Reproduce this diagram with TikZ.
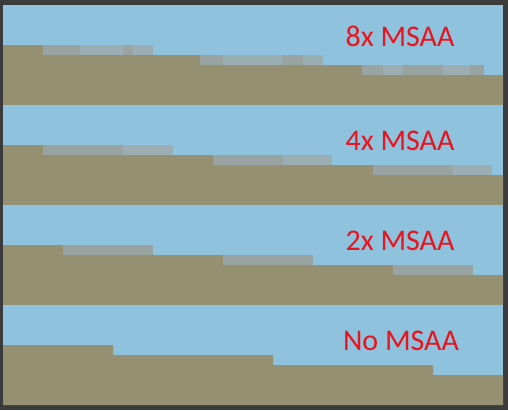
\documentclass[tikz,border=0pt]{standalone}
\usepackage{fontspec}
\setmainfont{Carlito}
\definecolor{framec}{HTML}{3B3B3B}
\definecolor{skyc}{HTML}{8EC2DD}
\definecolor{groundc}{HTML}{959071}
\definecolor{blendAc}{HTML}{98A3A2}
\definecolor{blendBc}{HTML}{9BAEB3}
\definecolor{labc}{HTML}{E8141E}
\tikzset{
  framebox/.style={fill=framec},
  skybox/.style={fill=skyc},
  groundbox/.style={fill=groundc},
  blendA/.style={fill=blendAc},
  blendB/.style={fill=blendBc},
  msaalabel/.style={text=labc, font=\fontsize{30}{30}\selectfont, anchor=base, inner sep=0pt}
}
\begin{document}
\begin{tikzpicture}[x=1pt,y=-1pt]
\useasboundingbox (0,0) rectangle (508,410);
\fill[framebox] (0,0) rectangle (508,410);
% ---- Panel 1: 8x MSAA
\fill[skybox] (3,5) rectangle (503,105);
\fill[groundbox] (3,45) -- (43,45) -- (43,55) -- (200,55) -- (200,65) -- (362,65) -- (362,75) -- (503,75) -- (503,105) -- (3,105) -- cycle;
\fill[blendA] (43,45) rectangle (80,55);
\fill[blendB] (80,45) rectangle (123,55);
\fill[blendA] (123,45) rectangle (133,55);
\fill[blendB] (133,45) rectangle (153,55);
\fill[blendA] (200,55) rectangle (223,65);
\fill[blendB] (223,55) rectangle (282,65);
\fill[blendA] (282,55) rectangle (303,65);
\fill[blendB] (303,55) rectangle (323,65);
\fill[blendA] (362,65) rectangle (383,75);
\fill[blendB] (383,65) rectangle (403,75);
\fill[blendA] (403,65) rectangle (443,75);
\fill[blendB] (443,65) rectangle (470,75);
\fill[blendA] (470,65) rectangle (484,75);
\node[msaalabel] (l8) at (400,46) {8x MSAA};
% ---- Panel 2: 4x MSAA
\fill[skybox] (3,105) rectangle (503,205);
\fill[groundbox] (3,145) -- (43,145) -- (43,155) -- (213,155) -- (213,165) -- (373,165) -- (373,175) -- (503,175) -- (503,205) -- (3,205) -- cycle;
\fill[blendA] (43,145) rectangle (123,155);
\fill[blendB] (123,145) rectangle (173,155);
\fill[blendA] (213,155) rectangle (283,165);
\fill[blendB] (283,155) rectangle (332,165);
\fill[blendA] (373,165) rectangle (453,175);
\fill[blendB] (453,165) rectangle (492,175);
\node[msaalabel] (l4) at (400,150) {4x MSAA};
% ---- Panel 3: 2x MSAA
\fill[skybox] (3,205) rectangle (503,305);
\fill[groundbox] (3,245) -- (63,245) -- (63,255) -- (223,255) -- (223,265) -- (393,265) -- (393,275) -- (503,275) -- (503,305) -- (3,305) -- cycle;
\fill[blendA] (63,245) rectangle (153,255);
\fill[blendA] (223,255) rectangle (313,265);
\fill[blendA] (393,265) rectangle (473,275);
\node[msaalabel] (l2) at (400,250) {2x MSAA};
% ---- Panel 4: No MSAA
\fill[skybox] (3,305) rectangle (503,405);
\fill[groundbox] (3,345) -- (113,345) -- (113,355) -- (273,355) -- (273,365) -- (433,365) -- (433,375) -- (503,375) -- (503,405) -- (3,405) -- cycle;
\node[msaalabel] (l0) at (401,350) {No MSAA};
\end{tikzpicture}
\end{document}
